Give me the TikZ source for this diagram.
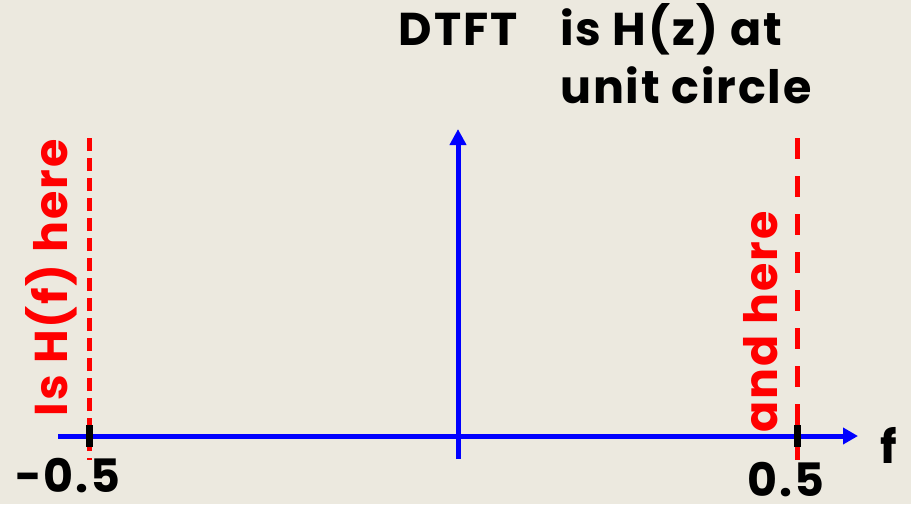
\documentclass[tikz,border=0pt]{standalone}
\usepackage{fontspec}
\setmainfont{Poppins}[LetterSpace=4]
\usetikzlibrary{arrows.meta}
\definecolor{bg}{RGB}{236,233,223}
\tikzset{
  axis/.style={draw=blue, line width=5pt},
  redline/.style={draw=red, line width=5pt},
  tickmark/.style={draw=black, line width=7pt},
  bigtext/.style={font=\fontsize{46}{52}\selectfont\bfseries, inner sep=0pt, text depth=0pt},
  redtext/.style={bigtext, text=red, rotate=90}
}
\begin{document}
\begin{tikzpicture}[x=1pt,y=-1pt]
\fill[bg] (0,0) rectangle (911,504);
\useasboundingbox (0,0) rectangle (911,504);
% coordinates
\coordinate (hL) at (58,436);
\coordinate (hR) at (858,436);
\coordinate (vB) at (458,459);
\coordinate (vT) at (458,129);
\coordinate (lT) at (89,138);
\coordinate (lB) at (89,460);
\coordinate (rT) at (797,138);
\coordinate (rB) at (797,460);
\coordinate (ltT) at (89,425);
\coordinate (ltB) at (89,447);
\coordinate (rtT) at (797,425);
\coordinate (rtB) at (797,447);
% dashed lines
\draw[redline, dash pattern=on 13pt off 7pt] (lT) -- (lB);
\draw[redline, dash pattern=on 21pt off 17pt] (rT) -- (rB);
% axes
\draw[axis, -{Triangle[length=15pt,width=16pt]}] (hL) -- (hR);
\draw[axis, -{Triangle[length=16pt,width=16pt]}] (vB) -- (vT);
% ticks
\draw[tickmark] (ltT) -- (ltB);
\draw[tickmark] (rtT) -- (rtB);
% texts
\node[bigtext, anchor=base] (dtft) at (458,45) {DTFT};
\node[bigtext, anchor=base west] (l1) at (560,45) {is H(z) at};
\node[bigtext, anchor=base west] (l2) at (560,103) {unit circle};
\node[bigtext, anchor=base] (m05) at (68,492) {-0.5};
\node[bigtext, anchor=base] (p05) at (786,496) {0.5};
\node[bigtext, anchor=base] (f) at (889,463) {f};
\node[redtext, anchor=base] (lefttext) at (67,278) {Is H(f) here};
\node[redtext, anchor=base] (righttext) at (777,322) {and here};
\end{tikzpicture}
\end{document}
